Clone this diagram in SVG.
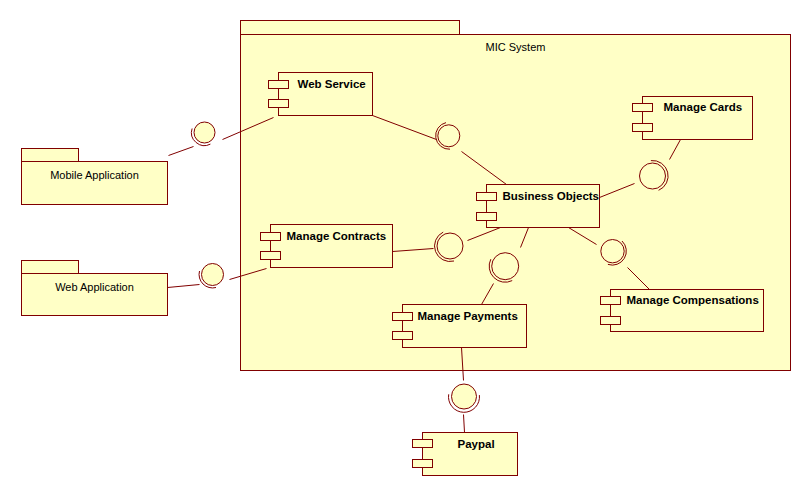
<svg xmlns="http://www.w3.org/2000/svg" width="811" height="496" viewBox="0 0 811 496">
<style>
.box{fill:#ffffc6;stroke:#800000;stroke-width:1}
.ln{stroke:#800000;stroke-width:1;fill:none}
.ball{fill:#ffffc6;stroke:#800000;stroke-width:1}
.sock{fill:none;stroke:#800000;stroke-width:1}
.pk{font-family:"Liberation Sans",Arial,sans-serif;font-size:11px;fill:#000;text-anchor:middle}
.cl{font-family:"Liberation Sans",Arial,sans-serif;font-size:11.5px;font-weight:bold;fill:#000}
</style>
<rect width="811" height="496" fill="#fff"/>
<g transform="translate(0.5,0.5)">
<g id="mic-system">
<rect class="box" x="240" y="20" width="219" height="14"/>
<rect class="box" x="240" y="34" width="550" height="336"/>
<text class="pk" x="515" y="50">MIC System</text>
</g>
<g id="mobile-application">
<rect class="box" x="21" y="148" width="57" height="13"/>
<rect class="box" x="21" y="161" width="146" height="43"/>
<text class="pk" x="94" y="178">Mobile Application</text>
</g>
<g id="web-application">
<rect class="box" x="21" y="260" width="57" height="13"/>
<rect class="box" x="21" y="273" width="146" height="42"/>
<text class="pk" x="94" y="290">Web Application</text>
</g>
<g id="web-service">
<rect class="box" x="278" y="72" width="94" height="43"/>
<rect class="box" x="268" y="80" width="20" height="8"/>
<rect class="box" x="268" y="99" width="20" height="8"/>
<text class="cl" x="297" y="87">Web Service</text>
</g>
<g id="business-objects">
<rect class="box" x="486" y="184" width="113" height="43"/>
<rect class="box" x="476" y="192" width="20" height="8"/>
<rect class="box" x="476" y="212" width="20" height="8"/>
<text class="cl" x="502" y="199">Business Objects</text>
</g>
<g id="manage-cards">
<rect class="box" x="642" y="96" width="110" height="43"/>
<rect class="box" x="632" y="103" width="20" height="8"/>
<rect class="box" x="632" y="123" width="20" height="8"/>
<text class="cl" x="663" y="110">Manage Cards</text>
</g>
<g id="manage-contracts">
<rect class="box" x="270" y="224" width="122" height="43"/>
<rect class="box" x="260" y="232" width="20" height="8"/>
<rect class="box" x="260" y="251" width="20" height="8"/>
<text class="cl" x="286" y="239">Manage Contracts</text>
</g>
<g id="manage-payments">
<rect class="box" x="402" y="304" width="124" height="43"/>
<rect class="box" x="392" y="312" width="20" height="8"/>
<rect class="box" x="392" y="331" width="20" height="8"/>
<text class="cl" x="417" y="319">Manage Payments</text>
</g>
<g id="manage-compensations">
<rect class="box" x="610" y="289" width="153" height="42"/>
<rect class="box" x="600" y="296" width="20" height="8"/>
<rect class="box" x="600" y="316" width="20" height="8"/>
<text class="cl" x="626" y="303">Manage Compensations</text>
</g>
<g id="paypal">
<rect class="box" x="422" y="432" width="95" height="43"/>
<rect class="box" x="412" y="439" width="20" height="8"/>
<rect class="box" x="412" y="459" width="20" height="8"/>
<text class="cl" x="457" y="447">Paypal</text>
</g>
<g id="connectors">
<line class="ln" x1="168" y1="155" x2="193" y2="146"/>
<line class="ln" x1="222" y1="139" x2="273" y2="117"/>
<line class="ln" x1="372" y1="115" x2="436" y2="139"/>
<line class="ln" x1="461" y1="151" x2="506" y2="184"/>
<line class="ln" x1="680" y1="139" x2="669" y2="159"/>
<line class="ln" x1="634" y1="183" x2="599" y2="197"/>
<line class="ln" x1="392" y1="251" x2="433" y2="248"/>
<line class="ln" x1="467" y1="240" x2="500" y2="227"/>
<line class="ln" x1="528" y1="227" x2="520" y2="247"/>
<line class="ln" x1="493" y1="283" x2="481" y2="304"/>
<line class="ln" x1="568" y1="227" x2="596" y2="244"/>
<line class="ln" x1="627" y1="267" x2="649" y2="289"/>
<line class="ln" x1="167" y1="287" x2="199" y2="284"/>
<line class="ln" x1="229" y1="279" x2="266" y2="268"/>
<line class="ln" x1="461" y1="347" x2="463" y2="380"/>
<line class="ln" x1="463" y1="414" x2="464" y2="432"/>
</g>
<g id="if-mobile-webservice">
<circle class="ball" cx="204" cy="132" r="10.5"/>
<path class="sock" d="M209.9,143.6 A13,13 0 0 1 191.6,128"/>
</g>
<g id="if-webservice-bo">
<circle class="ball" cx="448.3" cy="135.3" r="11"/>
<path class="sock" d="M449.5,148.7 A13.5,13.5 0 0 1 445.5,122.1"/>
</g>
<g id="if-bo-cards">
<circle class="ball" cx="652" cy="175.5" r="13"/>
<path class="sock" d="M650.4,160.1 A15.5,15.5 0 0 1 658.1,189.8"/>
</g>
<g id="if-contracts-bo">
<circle class="ball" cx="449.5" cy="245.5" r="13"/>
<path class="sock" d="M453.5,260.5 A15.5,15.5 0 0 1 442.7,231.6"/>
</g>
<g id="if-bo-payments">
<circle class="ball" cx="504.7" cy="265.7" r="13.5"/>
<path class="sock" d="M511.7,280.1 A16,16 0 0 1 490.3,258.7"/>
</g>
<g id="if-bo-compensations">
<circle class="ball" cx="612" cy="250.7" r="11.7"/>
<path class="sock" d="M621.5,240.5 A14,14 0 0 1 607.4,263.9"/>
</g>
<g id="if-webapp-contracts">
<circle class="ball" cx="212" cy="274" r="11"/>
<path class="sock" d="M215.5,287 A13.5,13.5 0 0 1 199,270.5"/>
</g>
<g id="if-payments-paypal">
<circle class="ball" cx="463.5" cy="396" r="12.5"/>
<path class="sock" d="M478.9,394.6 A15.5,15.5 0 1 1 448.2,393.8"/>
</g>
</g>
</svg>
